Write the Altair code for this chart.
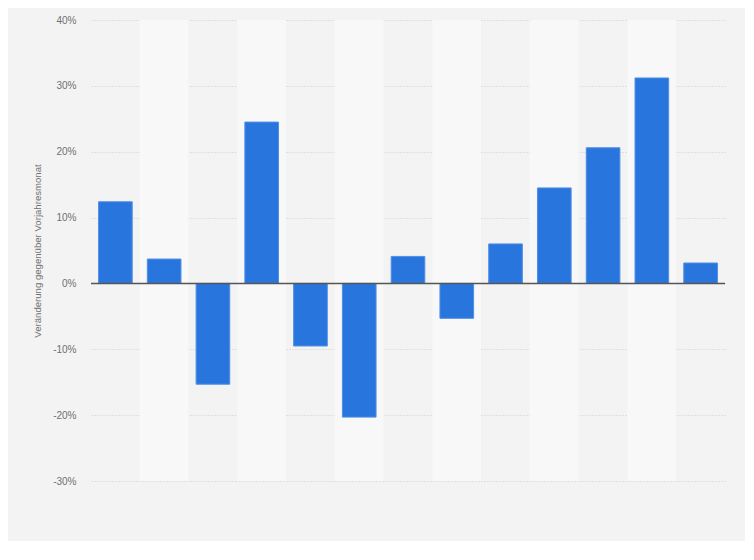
import altair as alt
import pandas as pd

months = ["M01", "M02", "M03", "M04", "M05", "M06", "M07",
          "M08", "M09", "M10", "M11", "M12", "M13"]
values = [12.4, 3.7, -15.3, 24.5, -9.5, -20.3, 4.1, -5.3, 6.0, 14.5, 20.6, 31.2, 3.1]
shade = [i % 2 for i in range(len(months))]

df = pd.DataFrame({"monat": months, "wert": values, "shade": shade})
zero = pd.DataFrame({"y": [0]})

W, H = 634, 461
xscale = alt.Scale(domain=months, paddingInner=0, paddingOuter=0)
yscale = alt.Scale(domain=[-30, 40], nice=False)

bands = alt.Chart(df).transform_filter("datum.shade == 1").mark_rect(
    color="#f8f8f8"
).encode(
    x=alt.X("monat:N", scale=xscale, axis=None, sort=months),
    y=alt.value(0),
    y2=alt.value(H),
)

bars = alt.Chart(df).mark_bar(
    color="#2876dd", stroke="#4f8fe6", strokeWidth=1,
    width=alt.RelativeBandSize(0.69)
).encode(
    x=alt.X("monat:N", scale=xscale, axis=None, sort=months),
    y=alt.Y("wert:Q", scale=yscale,
            title="Veränderung gegenüber Vorjahresmonat",
            axis=alt.Axis(values=[-30, -20, -10, 0, 10, 20, 30, 40],
                          labelExpr="datum.value + '%'",
                          grid=True, gridColor="#cccccc", gridDash=[1, 2],
                          gridWidth=1, domain=False, ticks=False,
                          labelPadding=15, labelFontSize=10,
                          labelColor="#707070", labelFont="Liberation Sans",
                          titleFont="Liberation Sans", titleFontSize=9.6,
                          titleFontWeight="normal", titleColor="#707070",
                          titlePadding=10)),
)

rule = alt.Chart(zero).mark_rule(color="#555555", strokeWidth=1.5).encode(
    y=alt.Y("y:Q", scale=yscale)
)

chart = alt.layer(bands, bars, rule).properties(
    width=W, height=H,
    autosize=alt.AutoSizeParams(type="none"),
    padding={"left": 83, "top": 12, "right": 20, "bottom": 60},
    background="#f3f3f3",
).configure_view(stroke=None)

chart.save("out.html", embed_options={"renderer": "svg", "actions": False})
